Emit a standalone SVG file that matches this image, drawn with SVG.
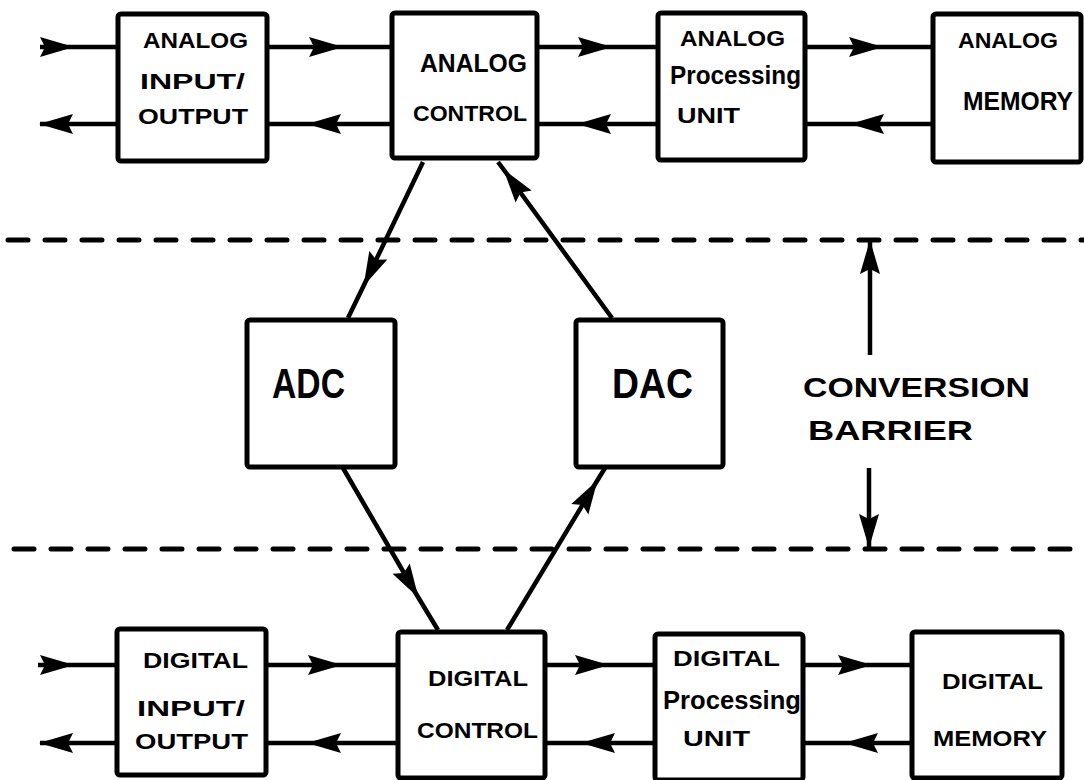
<svg xmlns="http://www.w3.org/2000/svg" width="1084" height="780" viewBox="0 0 1084 780">
<style>
.box{fill:#fff;stroke:#000;stroke-width:5}
.ln{fill:none;stroke:#000;stroke-width:4.5}
.mid{marker-mid:url(#ah)}
.end{marker-end:url(#ah)}
.dash{fill:none;stroke:#000;stroke-width:5;stroke-dasharray:20 17;stroke-linecap:round}
text{font-family:"Liberation Sans","DejaVu Sans",sans-serif;font-weight:bold;fill:#000;font-size:22px}
.big{font-size:42px}
.lab{font-size:28px}
.m{font-size:26px}
.p{font-size:25px}
</style>
<defs>
<marker id="ah" markerUnits="userSpaceOnUse" viewBox="0 0 34 20" refX="33" refY="10" markerWidth="34" markerHeight="20" orient="auto" overflow="visible">
<path d="M0,0 L34,10 L0,20 L5,10 z" fill="#000"/>
</marker>
</defs>
<rect width="1084" height="780" fill="#fff"/>

<g id="barrier">
<line class="dash" x1="8" y1="240" x2="1084" y2="240"/>
<line class="dash" x1="14" y1="549" x2="1084" y2="549"/>
<path class="ln end" d="M870,355 L870,241"/>
<path class="ln end" d="M869,468 L869,547"/>
<text class="lab" x="803" y="397" textLength="227" lengthAdjust="spacingAndGlyphs">CONVERSION</text>
<text class="lab" x="808" y="440" textLength="165" lengthAdjust="spacingAndGlyphs">BARRIER</text>
</g>

<g id="connectors">
<path class="ln mid" d="M40,47 L73,47 L118,47"/>
<path class="ln end" d="M118,124 L40,124"/>
<path class="ln mid" d="M267,47 L342,47 L392,47"/>
<path class="ln mid" d="M392,124 L308,124 L267,124"/>
<path class="ln mid" d="M537,47 L611,47 L658,47"/>
<path class="ln mid" d="M658,124 L578,124 L537,124"/>
<path class="ln mid" d="M805,47 L882,47 L933,47"/>
<path class="ln mid" d="M933,124 L851,124 L805,124"/>

<path class="ln mid" d="M38,665 L73,665 L117,665"/>
<path class="ln end" d="M117,743 L40,743"/>
<path class="ln mid" d="M266,665 L341,665 L398,665"/>
<path class="ln mid" d="M398,743 L308,743 L266,743"/>
<path class="ln mid" d="M545,665 L608,665 L655,665"/>
<path class="ln mid" d="M655,743 L582,743 L545,743"/>
<path class="ln mid" d="M803,665 L871,665 L912,665"/>
<path class="ln mid" d="M912,743 L845,743 L803,743"/>

<path class="ln mid" d="M423,162 L364,285 L348,318"/>
<path class="ln mid" d="M612,318 L504,170 L498,162"/>
<path class="ln mid" d="M343,468 L418,597 L438,630"/>
<path class="ln mid" d="M507,630 L597,481 L605,468"/>
</g>

<g id="analog-io">
<rect class="box" x="118" y="14" width="149" height="147" rx="3"/>
<text x="143" y="48" textLength="105" lengthAdjust="spacingAndGlyphs">ANALOG</text>
<text x="140" y="89" textLength="105" lengthAdjust="spacingAndGlyphs">INPUT/</text>
<text x="138" y="124" textLength="110" lengthAdjust="spacingAndGlyphs">OUTPUT</text>
</g>
<g id="analog-control">
<rect class="box" x="392" y="13" width="145" height="145" rx="3"/>
<text class="m" x="420" y="72" textLength="107" lengthAdjust="spacingAndGlyphs">ANALOG</text>
<text x="413" y="121" textLength="114" lengthAdjust="spacingAndGlyphs">CONTROL</text>
</g>
<g id="analog-processing">
<rect class="box" x="658" y="13" width="147" height="147" rx="3"/>
<text x="680" y="46" textLength="105" lengthAdjust="spacingAndGlyphs">ANALOG</text>
<text class="p" x="670" y="84" textLength="131" lengthAdjust="spacingAndGlyphs">Processing</text>
<text x="677" y="123" textLength="63" lengthAdjust="spacingAndGlyphs">UNIT</text>
</g>
<g id="analog-memory">
<rect class="box" x="933" y="14" width="148" height="148" rx="3"/>
<text x="958" y="48" textLength="100" lengthAdjust="spacingAndGlyphs">ANALOG</text>
<text class="m" x="963" y="110" textLength="110" lengthAdjust="spacingAndGlyphs">MEMORY</text>
</g>

<g id="adc">
<rect class="box" x="247" y="320" width="148" height="147" rx="3"/>
<text class="big" x="272" y="398" textLength="73" lengthAdjust="spacingAndGlyphs">ADC</text>
</g>
<g id="dac">
<rect class="box" x="576" y="320" width="147" height="147" rx="3"/>
<text class="big" x="612" y="398" textLength="81" lengthAdjust="spacingAndGlyphs">DAC</text>
</g>

<g id="digital-io">
<rect class="box" x="117" y="629" width="149" height="146" rx="3"/>
<text x="143" y="668" textLength="105" lengthAdjust="spacingAndGlyphs">DIGITAL</text>
<text x="137" y="716" textLength="108" lengthAdjust="spacingAndGlyphs">INPUT/</text>
<text x="135" y="749" textLength="113" lengthAdjust="spacingAndGlyphs">OUTPUT</text>
</g>
<g id="digital-control">
<rect class="box" x="398" y="632" width="147" height="146" rx="3"/>
<text x="428" y="686" textLength="100" lengthAdjust="spacingAndGlyphs">DIGITAL</text>
<text x="417" y="738" textLength="121" lengthAdjust="spacingAndGlyphs">CONTROL</text>
</g>
<g id="digital-processing">
<rect class="box" x="655" y="634" width="148" height="146" rx="3"/>
<text x="673" y="666" textLength="107" lengthAdjust="spacingAndGlyphs">DIGITAL</text>
<text class="p" x="663" y="709" textLength="138" lengthAdjust="spacingAndGlyphs">Processing</text>
<text x="683" y="746" textLength="67" lengthAdjust="spacingAndGlyphs">UNIT</text>
</g>
<g id="digital-memory">
<rect class="box" x="912" y="632" width="150" height="146" rx="3"/>
<text x="942" y="689" textLength="101" lengthAdjust="spacingAndGlyphs">DIGITAL</text>
<text x="933" y="746" textLength="114" lengthAdjust="spacingAndGlyphs">MEMORY</text>
</g>
</svg>
